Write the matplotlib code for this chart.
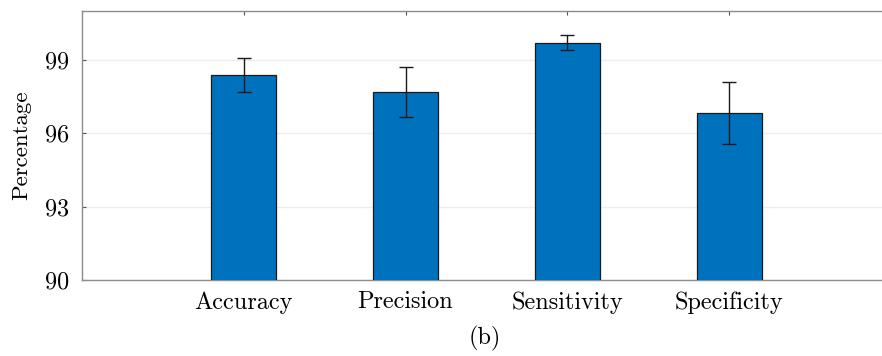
import matplotlib.pyplot as plt
import numpy as np

plt.rcParams['font.family'] = ['cmr10', 'DejaVu Serif']
plt.rcParams['axes.formatter.use_mathtext'] = True

categories = ['Accuracy', 'Precision', 'Sensitivity', 'Specificity']
means = [98.37, 97.70, 99.71, 96.82]
errors = [0.70, 1.02, 0.30, 1.26]
yticks = [90, 93, 96, 99]

fig = plt.figure(figsize=(8.82, 3.56), dpi=100)
ax = fig.add_axes([82 / 882, 1 - 280 / 356, 809 / 882, 269 / 356])

x = np.arange(1, len(categories) + 1)
ax.bar(x, means, width=0.4, color='#0072BD', edgecolor='#1a1a1a', linewidth=0.9, zorder=3)
ax.errorbar(x, means, yerr=errors, fmt='none', ecolor='#1a1a1a', elinewidth=1.0,
            capsize=5, capthick=1.0, zorder=4)

ax.set_xlim(0, 5)
ax.set_ylim(90, 101)
ax.set_yticks(yticks)
ax.set_xticks(x)
ax.set_xticklabels(categories)
ax.yaxis.grid(True, color='#ededed', linewidth=1.0, zorder=0)
ax.set_axisbelow(True)

for side in ['left', 'top', 'bottom']:
    ax.spines[side].set_color('#8c8c8c')
    ax.spines[side].set_linewidth(1.0)
ax.spines['right'].set_visible(False)
ax.tick_params(axis='both', direction='in', length=3, color='#555555',
               labelsize=17.5, labelcolor='black', top=True)
ax.tick_params(axis='y', pad=9)
ax.tick_params(axis='x', pad=8)

ax.set_ylabel('Percentage', fontsize=16.5, labelpad=9)
fig.text(485 / 882, 1 - 338 / 356, '(b)', fontsize=17.5, ha='center', va='center')

plt.savefig('out.png', dpi=100)
